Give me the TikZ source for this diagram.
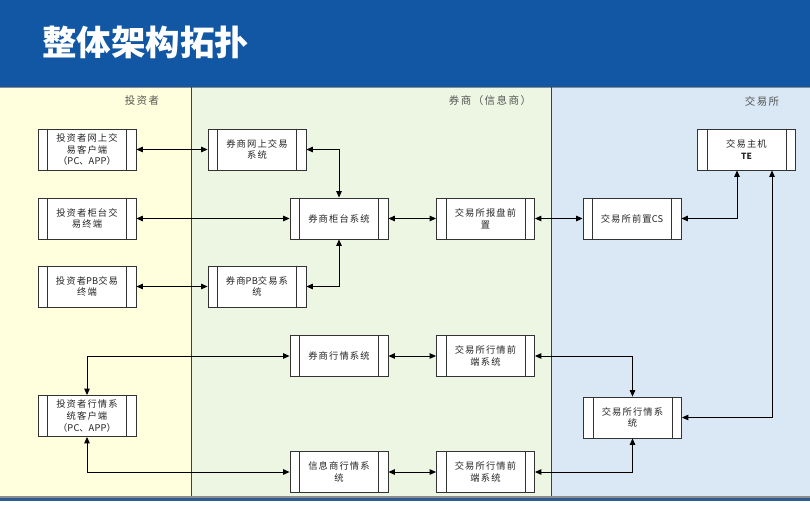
\documentclass[tikz,border=0pt]{standalone}
\usepackage{fontspec}
\usetikzlibrary{arrows.meta}
\newfontfamily\boxfont[LetterSpace=12]{Noto Sans CJK SC}
\newfontfamily\lanefont[LetterSpace=14]{Noto Sans CJK SC}
\newfontfamily\titlefont{Noto Sans CJK SC}
\newfontfamily\latinfont[LetterSpace=2]{Noto Sans CJK SC}
\newcommand\latn[1]{{\latinfont #1}}
\definecolor{barblue}{HTML}{1157A4}
\definecolor{laneyellow}{HTML}{FFFFDD}
\definecolor{lanegreen}{HTML}{EDF6E3}
\definecolor{laneblue}{HTML}{DAE8F5}
\definecolor{bottomblue}{HTML}{2B5C92}
\definecolor{boxline}{HTML}{333333}
\definecolor{lanegray}{HTML}{555555}
\tikzset{
  proc/.style={draw=boxline, line width=0.8pt, fill=white, minimum width=98pt, minimum height=41pt,
    inner sep=0pt, align=center, text=black!85, font=\boxfont\fontsize{9.3}{11.6}\selectfont},
  innerline/.style={draw=boxline, line width=0.8pt},
  conn/.style={<->, >={Triangle[length=6.5pt,width=5.5pt]}, line width=1pt, black},
  lanelabel/.style={text=lanegray, font=\lanefont\fontsize{10.5}{12}\selectfont, inner sep=0pt},
  divider/.style={draw=black!75, line width=1pt}
}
\begin{document}
\begin{tikzpicture}[x=1pt, y=-1pt]
\useasboundingbox (0,0) rectangle (810,514);
\fill[white] (0,0) rectangle (810,514);
% title bar
\fill[barblue] (0,0) rectangle (810,87);
\node[text=white, font=\titlefont\bfseries\fontsize{34.5}{37}\selectfont, anchor=west, inner sep=0pt] (title) at (42,42) {整体架构拓扑};
% lanes
\fill[laneyellow] (0,87) rectangle (191.5,498);
\fill[lanegreen] (191.5,87) rectangle (551.5,498);
\fill[laneblue] (551.5,87) rectangle (810,498);
\draw[black!45, line width=0.8pt] (0,87.5) -- (810,87.5);
\draw[divider] (191.5,87) -- (191.5,498);
\draw[divider] (551.5,87) -- (551.5,498);
\fill[black!45] (0,495.5) rectangle (810,497.5);
\fill[bottomblue] (0,497.5) rectangle (810,501);
% lane labels
\node[lanelabel] (l1) at (142,101) {投资者};
\node[lanelabel] (l2) at (490,101) {券商（信息商）};
\node[lanelabel] (l3) at (762,101) {交易所};
% boxes
\node[proc] (a1) at (87,149.5) {投资者网上交\\易客户端\\（\latn{PC}、\latn{APP}）};
\node[proc] (a2) at (87,218.5) {投资者柜台交\\易终端};
\node[proc] (a3) at (87,286.5) {投资者\latn{PB}交易\\终端};
\node[proc] (a4) at (87,416) {投资者行情系\\统客户端\\（\latn{PC}、\latn{APP}）};
\node[proc] (b1) at (257,149.5) {券商网上交易\\系统};
\node[proc] (b2) at (339,218.5) {券商柜台系统};
\node[proc] (b3) at (257,286.5) {券商\latn{PB}交易系\\统};
\node[proc] (b4) at (485.5,218.5) {交易所报盘前\\置};
\node[proc] (b5) at (339,356) {券商行情系统};
\node[proc] (b6) at (485.5,356) {交易所行情前\\端系统};
\node[proc] (b7) at (339,472) {信息商行情系\\统};
\node[proc] (b8) at (485.5,472) {交易所行情前\\端系统};
\node[proc] (c1) at (632,218.5) {交易所前置\latn{CS}};
\node[proc] (c2) at (746.5,149.5) {交易主机\\{\latinfont\bfseries\fontsize{8.5}{10}\selectfont TE}};
\node[proc] (c3) at (632.5,417.5) {交易所行情系\\统};
\foreach \n in {a1,a2,a3,a4,b1,b2,b3,b4,b5,b6,b7,b8,c1,c2,c3}{
  \draw[innerline] ([xshift=10pt]\n.north west) -- ([xshift=10pt]\n.south west)
                   ([xshift=-10pt]\n.north east) -- ([xshift=-10pt]\n.south east);
}
% connectors
\draw[conn] (a1) -- (b1);
\draw[conn] (a2) -- (b2);
\draw[conn] (a3) -- (b3);
\draw[conn] (b1.east) -| (b2.north);
\draw[conn] (b3.east) -| (b2.south);
\draw[conn] (b2) -- (b4);
\draw[conn] (b4) -- (c1);
\draw[conn] (c1.east) -| ([xshift=-9.5pt]c2.south);
\draw[conn] (c3.east) -| ([xshift=25.5pt]c2.south);
\draw[conn] (a4.north) |- (b5.west);
\draw[conn] (a4.south) |- (b7.west);
\draw[conn] (b5) -- (b6);
\draw[conn] (b7) -- (b8);
\draw[conn] (b6.east) -| (c3.north);
\draw[conn] (b8.east) -| (c3.south);
\end{tikzpicture}
\end{document}
